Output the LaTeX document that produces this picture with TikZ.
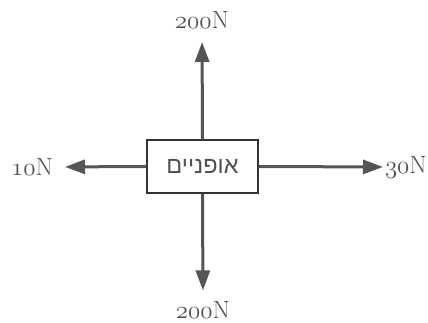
\RequirePackage{fix-cm}
\documentclass[tikz,border=0pt]{standalone}
\usepackage{fontspec}
\newfontfamily\hebfont[Script=Hebrew]{Liberation Sans}
\TeXXeTstate=1
\usetikzlibrary{arrows.meta}
\definecolor{arrowgray}{HTML}{555555}
\definecolor{boxgray}{HTML}{333333}
\definecolor{textgray}{HTML}{505050}
\newcommand{\osn}[1]{$\mathnormal{#1}$}
\tikzset{
  force/.style={draw=arrowgray, line width=3pt, -{Triangle[length=20pt,width=14pt]}},
  body/.style={draw=boxgray, line width=1.3pt, fill=white, minimum width=111pt, minimum height=53pt, inner sep=0pt, text=textgray, font=\hebfont\fontsize{23.5}{26}\selectfont},
  lbl/.style={inner sep=0pt, outer sep=0pt, text=textgray, font=\fontsize{25}{28}\selectfont}
}
\begin{document}
\begin{tikzpicture}[x=1pt,y=1pt]
\useasboundingbox (0,0) rectangle (428,323);
\node[body] (box) at (202.5,156.5) {\beginR אופניים\endR};
\node[lbl, anchor=south] (up) at (202,294) {\osn{200}N};
\node[lbl, anchor=south] (down) at (203,4.5) {\osn{200}N};
\node[lbl, anchor=east] (left) at (53,156) {\osn{10}N};
\node[lbl, anchor=west] (right) at (385,156) {\osn{30}N};
\draw[force, shorten >=13pt] (box.north) -- (up.south);
\draw[force, shorten >=11pt] (box.south) -- (down.north);
\draw[force, shorten >=12pt] (box.west) -- (left.east);
\draw[force, shorten >=2pt] (box.east) -- (right.west);
\end{tikzpicture}
\end{document}
